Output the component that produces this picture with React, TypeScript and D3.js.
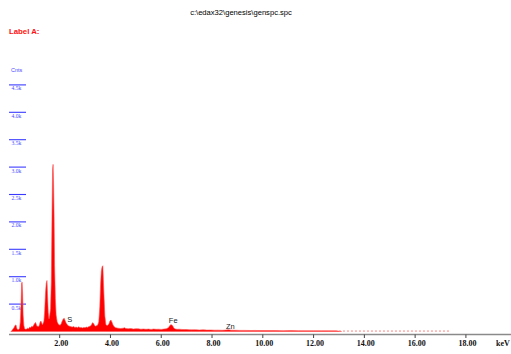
import React, { useRef, useEffect } from 'react';
import * as d3 from 'd3';

const W = 511;
const H = 354;

const title = 'c:\\edax32\\genesis\\genspc.spc';
const labelA = 'Label A:';
const yTicks = [500, 1000, 1500, 2000, 2500, 3000, 3500, 4000, 4500];
const yTickLabels = ['0.5k', '1.0k', '1.5k', '2.0k', '2.5k', '3.0k', '3.5k', '4.0k', '4.5k'];
const xTicks = [2, 4, 6, 8, 10, 12, 14, 16, 18];
const xTickLabels = ['2.00', '4.00', '6.00', '8.00', '10.00', '12.00', '14.00', '16.00', '18.00'];

// spectrum (keV, counts)
const energy = [
  0.08, 0.12, 0.16, 0.2, 0.24, 0.28, 0.31, 0.34, 0.38, 0.42, 0.45, 0.48, 0.5, 0.52, 0.54, 0.56, 0.59, 0.62,
  0.66, 0.7, 0.74, 0.78, 0.82, 0.86, 0.9, 0.94, 0.98, 1.02, 1.05, 1.08, 1.11, 1.14, 1.17, 1.2, 1.23, 1.26,
  1.29, 1.32, 1.35, 1.38, 1.41, 1.44, 1.47, 1.5, 1.52, 1.55, 1.58, 1.61, 1.64, 1.67, 1.7, 1.72, 1.74, 1.76,
  1.78, 1.8, 1.83, 1.86, 1.9, 1.94, 1.98, 2.02, 2.06, 2.1, 2.14, 2.18, 2.22, 2.26, 2.3, 2.35, 2.4, 2.45,
  2.5, 2.55, 2.6, 2.65, 2.7, 2.75, 2.8, 2.85, 2.9, 2.95, 3.0, 3.05, 3.1, 3.15, 3.2, 3.25, 3.29, 3.33,
  3.37, 3.41, 3.45, 3.5, 3.54, 3.58, 3.61, 3.64, 3.67, 3.7, 3.72, 3.75, 3.78, 3.82, 3.86, 3.9, 3.94, 3.98,
  4.02, 4.06, 4.1, 4.15, 4.2, 4.3, 4.4, 4.5, 4.55, 4.6, 4.7, 4.8, 4.9, 5.0, 5.1, 5.2, 5.3, 5.4, 5.5, 5.6,
  5.7, 5.8, 5.9, 6.0, 6.1, 6.2, 6.28, 6.34, 6.38, 6.42, 6.46, 6.5, 6.56, 6.62, 6.7, 6.8, 6.9, 7.0, 7.1,
  7.2, 7.35, 7.5, 7.65, 7.8, 7.95, 8.1, 8.25, 8.4, 8.55, 8.65, 8.75, 8.9, 9.1, 9.3, 9.5, 9.7, 9.9, 10.2,
  10.5, 10.8, 11.1, 11.4, 11.7, 12.0, 12.3, 12.6, 12.9, 13.1,
];
const counts = [
  0, 20, 45, 70, 110, 120, 60, 35, 30, 60, 180, 500, 880, 900, 700, 300, 110, 50,
  40, 45, 60, 50, 80, 70, 95, 85, 120, 150, 165, 130, 90, 100, 85, 120, 170, 190,
  160, 120, 150, 190, 380, 700, 880, 930, 700, 350, 230, 300, 420, 900, 2200, 2950, 3050, 2700,
  2100, 1200, 600, 300, 180, 140, 120, 115, 140, 190, 230, 240, 190, 150, 125, 100, 95, 85,
  80, 90, 75, 80, 70, 85, 70, 75, 65, 75, 70, 80, 75, 90, 95, 120, 160, 150,
  115, 95, 105, 120, 180, 450, 850, 1100, 1180, 1200, 950, 600, 280, 130, 110, 115, 140, 190,
  210, 170, 120, 85, 70, 60, 55, 60, 70, 55, 50, 55, 45, 50, 48, 42, 46, 40, 44, 38,
  45, 40, 42, 38, 44, 48, 70, 110, 125, 120, 95, 60, 45, 40, 42, 38, 35, 36, 32,
  30, 32, 28, 30, 26, 27, 24, 25, 22, 26, 32, 24, 22, 20, 20, 18, 19, 17, 16,
  16, 15, 16, 15, 14, 14, 13, 13, 12, 0,
];
// faint dotted tail
const tailEnergy = [13.0, 17.4];
const tailCounts = [8, 8];

// element labels: position in keV and counts (text baseline)
const peakNames = ['S', 'Fe', 'Zn'];
const peakEnergy = [2.3, 6.3, 8.55];
const peakCounts = [175, 155, 45];

export default function App() {
  const svgRef = useRef<SVGSVGElement>(null);

  useEffect(() => {
    const svg = d3.select(svgRef.current);
    svg.selectAll('*').remove();

    const x = d3.scaleLinear().domain([0, 20]).range([8.9, 516.7]);
    const y = d3.scaleLinear().domain([0, 5000]).range([331.5, 57.5]);

    // title
    svg.append('text')
      .attr('x', 241).attr('y', 15)
      .attr('text-anchor', 'middle')
      .attr('font-family', 'Liberation Sans, Arial, sans-serif')
      .attr('font-size', '7.6px')
      .attr('fill', '#000')
      .text(title);

    svg.append('text')
      .attr('x', 9).attr('y', 34)
      .attr('font-family', 'Liberation Sans, Arial, sans-serif')
      .attr('font-size', '7.8px')
      .attr('font-weight', 'bold')
      .attr('fill', '#ff1010')
      .text(labelA);

    // y ticks
    svg.append('text')
      .attr('x', 11).attr('y', 72)
      .attr('font-family', 'Liberation Sans, Arial, sans-serif')
      .attr('font-size', '5.5px')
      .attr('fill', '#4a4aff')
      .text('Cnts');

    const yg = svg.append('g');
    yTicks.forEach((t, i) => {
      yg.append('line')
        .attr('x1', 9).attr('x2', 26)
        .attr('y1', y(t)).attr('y2', y(t))
        .attr('stroke', '#3a3aff')
        .attr('stroke-width', 1.1);
      yg.append('text')
        .attr('x', 11.5).attr('y', y(t) + 5.5)
        .attr('font-family', 'Liberation Serif, serif')
        .attr('font-size', '5.6px')
        .attr('fill', '#4a4aff')
        .text(yTickLabels[i]);
    });

    // spectrum
    const pts = energy.map((e, i) => [e, counts[i]] as [number, number]);
    const area = d3.area<[number, number]>()
      .x(d => x(d[0]))
      .y0(y(0))
      .y1(d => y(d[1]));
    svg.append('path')
      .attr('d', area(pts))
      .attr('fill', '#ff0000')
      .attr('stroke', '#ff5050')
      .attr('stroke-width', 0.6);

    const tail = tailEnergy.map((e, i) => [e, tailCounts[i]] as [number, number]);
    svg.append('path')
      .attr('d', d3.line<[number, number]>().x(d => x(d[0])).y(d => y(d[1]))(tail))
      .attr('fill', 'none')
      .attr('stroke', '#ff8080')
      .attr('stroke-width', 1)
      .attr('stroke-dasharray', '2,2');

    // peak labels
    peakNames.forEach((n, i) => {
      svg.append('text')
        .attr('x', x(peakEnergy[i])).attr('y', y(peakCounts[i]))
        .attr('font-family', 'Liberation Sans, Arial, sans-serif')
        .attr('font-size', '7.5px')
        .attr('fill', '#222')
        .text(n);
    });

    // x axis
    const xg = svg.append('g');
    xg.append('line')
      .attr('x1', 9).attr('x2', 511)
      .attr('y1', 334.5).attr('y2', 334.5)
      .attr('stroke', '#8a8a8a')
      .attr('stroke-width', 1.4);
    xTicks.forEach((t, i) => {
      xg.append('line')
        .attr('x1', x(t)).attr('x2', x(t))
        .attr('y1', 334.5).attr('y2', 338)
        .attr('stroke', '#444')
        .attr('stroke-width', 1);
      xg.append('text')
        .attr('x', x(t) + 1.5).attr('y', 346)
        .attr('text-anchor', 'middle')
        .attr('font-family', 'Liberation Serif, serif')
        .attr('font-weight', 'bold')
        .attr('font-size', '8px')
        .attr('fill', '#111')
        .text(xTickLabels[i]);
    });
    xg.append('text')
      .attr('x', 496).attr('y', 346)
      .attr('font-family', 'Liberation Serif, serif')
      .attr('font-weight', 'bold')
      .attr('font-size', '8px')
      .attr('fill', '#111')
      .text('keV');
  }, []);

  return (
    <svg
      ref={svgRef}
      width={W}
      height={H}
      style={{ position: 'absolute', left: 0, top: 0, background: '#fff' }}
    />
  );
}
